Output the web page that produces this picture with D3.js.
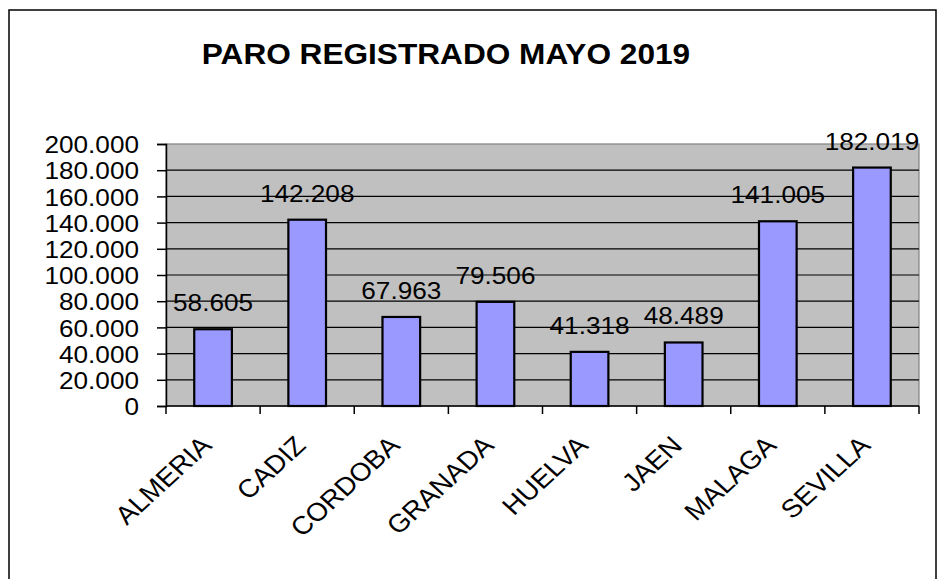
<!DOCTYPE html>
<html lang="es">
  <head>
    <meta charset="UTF-8" />
    <title>Paro registrado mayo 2019</title>
    <style>
      body {
        margin: 0;
        background: #fff;
        font-family: 'Liberation Sans', Arial, Helvetica, sans-serif;
      }
      .grid line {
        stroke: #000;
        stroke-width: 1.2;
      }
      .bar {
        fill: #9999ff;
        stroke: #000;
        stroke-width: 2.2;
      }
    </style>
  </head>
  <body>
    <script src="https://d3js.org/d3.v7.min.js"></script>
    <script>
      const provincias = ['ALMERIA', 'CADIZ', 'CORDOBA', 'GRANADA', 'HUELVA', 'JAEN', 'MALAGA', 'SEVILLA'];
      const parados = [58605, 142208, 67963, 79506, 41318, 48489, 141005, 182019];
      const yTicks = [0, 20000, 40000, 60000, 80000, 100000, 120000, 140000, 160000, 180000, 200000];
      const titulo = 'PARO REGISTRADO MAYO 2019';

      const width = 938;
      const height = 579;
      const margin = { top: 144, right: 19, bottom: 173, left: 166 };
      const stretch = 1.09; // el gráfico original está estirado en horizontal

      const data = provincias.map((p, i) => ({ name: p, value: parados[i] }));
      const fmt = (v) => d3.format(',')(v).replace(/,/g, '.');

      const svg = d3.select('body').append('svg').attr('width', width).attr('height', height);

      // marco exterior
      svg.append('rect')
        .attr('x', 9).attr('y', 10)
        .attr('width', 927).attr('height', 600)
        .attr('fill', 'none').attr('stroke', '#000').attr('stroke-width', 1.5);

      const x = d3.scaleBand()
        .domain(provincias)
        .range([margin.left, width - margin.right])
        .paddingInner(0.6)
        .paddingOuter(0.3);

      const y = d3.scaleLinear()
        .domain([0, 200000])
        .range([height - margin.bottom, margin.top]);

      // fondo del área de trazado
      svg.append('rect')
        .attr('x', margin.left).attr('y', margin.top)
        .attr('width', width - margin.right - margin.left)
        .attr('height', y(0) - margin.top)
        .attr('fill', '#c0c0c0')
        .attr('stroke', '#808080').attr('stroke-width', 1.2);

      svg.append('g')
        .attr('class', 'grid')
        .selectAll('line')
        .data(yTicks.filter((t) => t > 0 && t < 200000))
        .join('line')
        .attr('x1', margin.left).attr('x2', width - margin.right)
        .attr('y1', (d) => y(d)).attr('y2', (d) => y(d));

      svg.selectAll('.bar')
        .data(data)
        .join('rect')
        .attr('class', 'bar')
        .attr('x', (d) => x(d.name))
        .attr('width', x.bandwidth())
        .attr('y', (d) => y(d.value))
        .attr('height', (d) => y(0) - y(d.value));

      // eje Y
      const yAxis = svg.append('g')
        .attr('transform', `translate(${margin.left},0)`)
        .call(d3.axisLeft(y).tickValues(yTicks).tickSize(9).tickPadding(18).tickFormat(fmt));
      yAxis.select('.domain').attr('stroke', '#000').attr('stroke-width', 1.5);
      yAxis.selectAll('.tick line').attr('stroke', '#000').attr('stroke-width', 1.5);
      yAxis.selectAll('text')
        .attr('font-family', 'Liberation Sans, Arial, sans-serif')
        .attr('font-size', 24).attr('fill', '#000')
        .attr('dy', '0.36em');

      // eje X: marcas en los límites de categoría
      const edge = (i) => margin.left + i * x.step();
      const xAxis = svg.append('g');
      xAxis.append('line')
        .attr('x1', margin.left).attr('x2', width - margin.right)
        .attr('y1', y(0)).attr('y2', y(0))
        .attr('stroke', '#000').attr('stroke-width', 1.5);
      xAxis.selectAll('.xt')
        .data(d3.range(provincias.length + 1))
        .join('line')
        .attr('x1', (i) => edge(i)).attr('x2', (i) => edge(i))
        .attr('y1', y(0)).attr('y2', y(0) + 8)
        .attr('stroke', '#000').attr('stroke-width', 1.5);

      // etiquetas de datos
      svg.selectAll('.lbl')
        .data(data)
        .join('text')
        .attr('class', 'lbl')
        .attr('x', (d) => x(d.name) + x.bandwidth() / 2)
        .attr('y', (d) => y(d.value) - 18)
        .attr('text-anchor', 'middle')
        .attr('font-size', 24)
        .text((d) => fmt(d.value));

      svg.append('text')
        .attr('x', 446).attr('y', 64)
        .attr('text-anchor', 'middle')
        .attr('font-size', 29).attr('font-weight', 'bold')
        .text(titulo);

      // estirar el texto horizontalmente como en el original
      svg.selectAll('text').each(function () {
        const len = this.getComputedTextLength();
        d3.select(this).attr('textLength', len * stretch).attr('lengthAdjust', 'spacingAndGlyphs');
      });

      // etiquetas de categoría giradas (estiradas en X tras el giro)
      xAxis.selectAll('.xl')
        .data(provincias)
        .join('text')
        .attr('class', 'xl')
        .attr('transform', (d) => `translate(${x(d) + x.bandwidth() / 2},${y(0) + 41}) scale(${stretch},1) rotate(-45)`)
        .attr('text-anchor', 'end')
        .attr('font-size', 25.5)
        .text((d) => d);
    </script>
  </body>
</html>
